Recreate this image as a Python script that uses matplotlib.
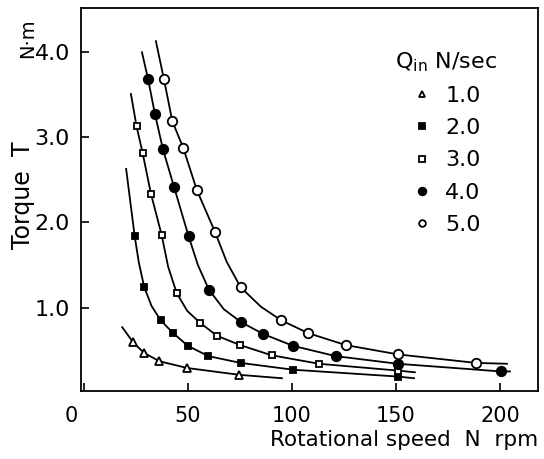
import matplotlib
matplotlib.use("Agg")
import matplotlib.pyplot as plt
from matplotlib.lines import Line2D
import matplotlib.transforms as mtransforms

plt.rcParams['font.family'] = ['DejaVu Sans']
plt.rcParams['mathtext.default'] = 'regular'

# flow rates Qin (N/sec)
flow_labels = ['1.0', '2.0', '3.0', '4.0', '5.0']

# measured points, rotational speed N (rpm) and torque T (N.m)
speed_q1 = [23.7, 28.8, 36.2, 49.7, 74.7]
torque_q1 = [0.59, 0.47, 0.37, 0.29, 0.21]
speed_q2 = [24.4, 29.0, 36.9, 42.9, 50.0, 59.8, 75.3, 100.6, 150.8]
torque_q2 = [1.84, 1.24, 0.85, 0.70, 0.55, 0.43, 0.35, 0.27, 0.19]
speed_q3 = [25.3, 28.2, 32.2, 37.4, 44.6, 55.9, 63.9, 75.0, 90.2, 113.0, 150.8]
torque_q3 = [3.13, 2.82, 2.34, 1.85, 1.17, 0.82, 0.67, 0.56, 0.44, 0.34, 0.26]
speed_q4 = [30.8, 34.1, 38.0, 43.3, 50.3, 60.1, 75.5, 86.2, 100.6, 121.0, 150.8, 200.3]
torque_q4 = [3.69, 3.28, 2.86, 2.42, 1.84, 1.21, 0.83, 0.69, 0.55, 0.43, 0.34, 0.25]
speed_q5 = [38.5, 42.5, 47.7, 54.3, 63.0, 75.3, 94.9, 107.8, 125.8, 151.0, 188.5]
torque_q5 = [3.68, 3.19, 2.88, 2.38, 1.89, 1.24, 0.85, 0.70, 0.56, 0.45, 0.35]

# extra points (start, knee, end)
curve_n_q1 = [18.4, 95.2]
curve_t_q1 = [0.77, 0.17]
curve_n_q2 = [20.3, 26.4, 32.5, 158.7]
curve_t_q2 = [2.63, 1.53, 1.02, 0.17]
curve_n_q3 = [22.6, 40.5, 49.7, 159.1]
curve_t_q3 = [3.51, 1.48, 0.96, 0.24]
curve_n_q4 = [27.9, 54.8, 67.3, 204.8]
curve_t_q4 = [4.00, 1.50, 0.98, 0.25]
curve_n_q5 = [34.6, 68.6, 85.1, 203.4]
curve_t_q5 = [4.13, 1.54, 1.01, 0.34]

speeds = [speed_q1, speed_q2, speed_q3, speed_q4, speed_q5]
torques = [torque_q1, torque_q2, torque_q3, torque_q4, torque_q5]
curve_n = [curve_n_q1, curve_n_q2, curve_n_q3, curve_n_q4, curve_n_q5]
curve_t = [curve_t_q1, curve_t_q2, curve_t_q3, curve_t_q4, curve_t_q5]

# marker, fill, size in plot, size in legend
styles = [('^', 'white', 5.5, 4.5),
          ('s', 'black', 5.0, 4.0),
          ('s', 'white', 5.0, 4.0),
          ('o', 'black', 6.8, 5.5),
          ('o', 'white', 6.8, 4.8)]

fig = plt.figure(figsize=(5.44, 4.59), dpi=100)
ax = fig.add_axes([81/544, 1 - 391/459, (538 - 81)/544, (391 - 8)/459])

for i in range(5):
    pts = sorted(zip(speeds[i] + curve_n[i], torques[i] + curve_t[i]))
    ax.plot([p[0] for p in pts], [p[1] for p in pts], color='black', lw=1.3,
            zorder=2, solid_joinstyle='round')
    m, fc, ms, _ = styles[i]
    ax.plot(speeds[i], torques[i], ls='none', marker=m, ms=ms, mfc=fc,
            mec='black', mew=1.3, zorder=3)

ax.set_xlim(-1.4, 218.3)
ax.set_ylim(0.02, 4.52)

ax.set_xticks([0, 50, 100, 150, 200])
ax.set_xticklabels(['0', '50', '100', '150', '200'])
ax.set_yticks([1.0, 2.0, 3.0, 4.0])
ax.set_yticklabels(['1.0', '2.0', '3.0', '4.0'])
ax.tick_params(direction='in', length=6, width=1.2)
ax.tick_params(axis='x', pad=11, labelsize=15)
ax.tick_params(axis='y', pad=8, labelsize=16)
for s in ax.spines.values():
    s.set_linewidth(1.3)

# the "0" sits left of the axis corner
zero_lab = ax.get_xticklabels()[0]
zero_lab.set_transform(zero_lab.get_transform() +
                       mtransforms.ScaledTranslation(-13/100, 0, fig.dpi_scale_trans))

ax.set_xlabel('Rotational speed  N  rpm', fontsize=15.5, loc='right', labelpad=3)
fig.text(23/544, 1 - 210/459, 'Torque', rotation=90, fontsize=17,
         ha='center', va='center')
fig.text(23/544, 1 - 149/459, 'T', rotation=90, fontsize=17,
         ha='center', va='center')
fig.text(28/544, 1 - 38/459, 'N·m', rotation=90, fontsize=14,
         ha='center', va='center')

handles = []
for i in range(5):
    m, fc, _, lms = styles[i]
    handles.append(Line2D([], [], ls='none', marker=m, ms=lms, mfc=fc,
                          mec='black', mew=1.3))
leg = ax.legend(handles, flow_labels, title='Q$_{in}$ N/sec', fontsize=16,
                title_fontsize=16, frameon=False, loc='upper right',
                bbox_to_anchor=(508/544, 1 - 39/459),
                bbox_transform=fig.transFigure, borderpad=0,
                handlelength=1.0, handletextpad=0.55, labelspacing=0.55)

fig.savefig('out.png', dpi=100)
